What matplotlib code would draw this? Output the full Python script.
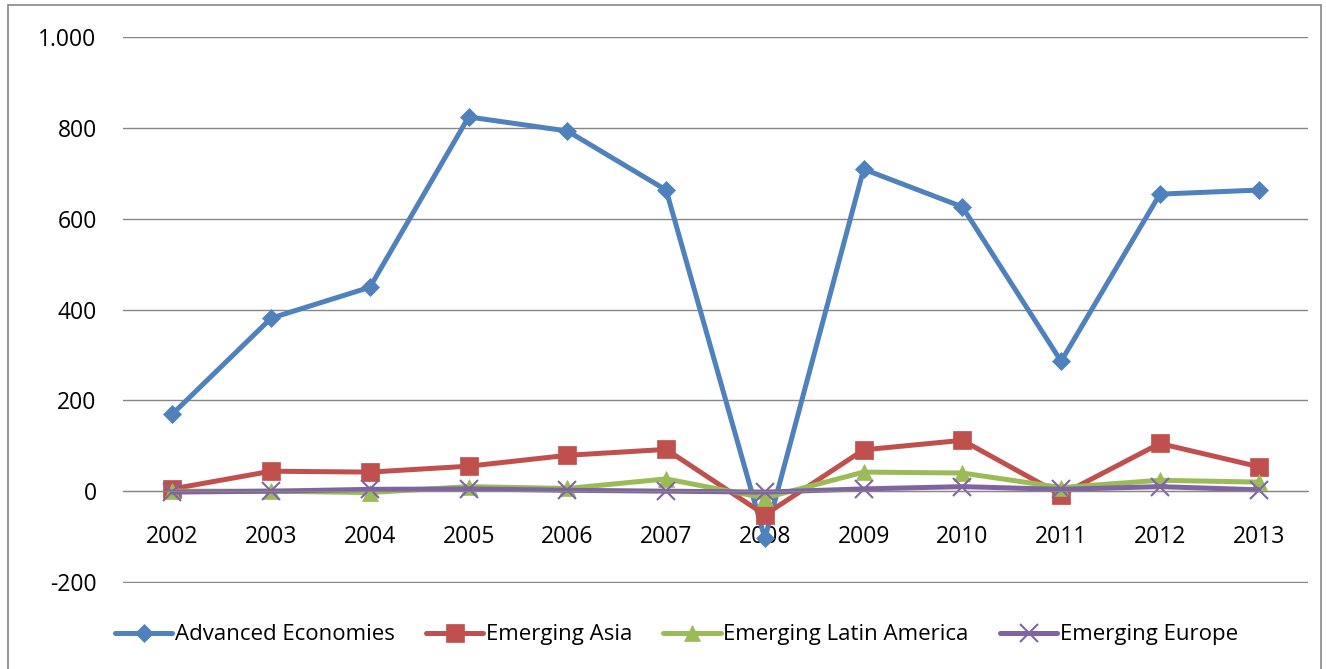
import matplotlib.pyplot as plt
import matplotlib.patches as patches
from matplotlib.ticker import FuncFormatter

years = ["2002", "2003", "2004", "2005", "2006", "2007",
         "2008", "2009", "2010", "2011", "2012", "2013"]
advanced = [170, 381, 449, 824, 793, 663, -104, 709, 626, 286, 654, 663]
asia = [5, 44, 42, 55, 79, 92, -52, 91, 112, -8, 105, 54]
latam = [0, 0, -3, 10, 6, 27, -15, 42, 40, 8, 24, 20]
europe = [-2, 0, 4, 5, 2, 0, -2, 5, 10, 4, 10, 3]

names = ["Advanced Economies", "Emerging Asia", "Emerging Latin America", "Emerging Europe"]
colors = ["#4F81BD", "#C0504D", "#9BBB59", "#8064A2"]
markers = ["D", "s", "^", "x"]
msizes = [9, 13, 12, 13]

plt.rcParams['font.family'] = ['Open Sans', 'DejaVu Sans']

fig = plt.figure(figsize=(13.26, 6.69), dpi=100)
ax = fig.add_axes([0.0928, 0.129, 0.8936, 0.8157])

x = list(range(len(years)))
series = [advanced, asia, latam, europe]
for vals, name, c, m, ms in zip(series, names, colors, markers, msizes):
    ax.plot(x, vals, color=c, lw=3.6, marker=m, markersize=ms,
            markeredgewidth=1.5 if m == "x" else 0.5, markeredgecolor=c,
            label=name, solid_capstyle='round')

ax.set_xlim(-0.5, 11.5)
ax.set_ylim(-201.5, 1000)
ax.set_yticks(range(-200, 1001, 200))
ax.yaxis.set_major_formatter(FuncFormatter(lambda v, p: "{:,.0f}".format(v).replace(",", ".")))
ax.grid(axis='y', color='#868686', lw=1)
ax.set_axisbelow(True)
ax.set_xticks(x)
ax.set_xticklabels(years)

for s in ['top', 'right', 'left']:
    ax.spines[s].set_visible(False)
ax.spines['bottom'].set_position(('data', 0))
ax.spines['bottom'].set_color('#868686')
ax.tick_params(axis='both', length=0, labelsize=16.5)
ax.tick_params(axis='x', pad=24)
ax.tick_params(axis='y', pad=19)

fig.legend(loc='center', bbox_to_anchor=(0.51, 0.051), ncol=4, frameon=False,
           fontsize=16, handlelength=2.6, handletextpad=0.1, columnspacing=1.4)

fig.patches.append(patches.Rectangle((0.006, -0.01), 0.99, 1.002, transform=fig.transFigure,
                                     fill=False, edgecolor='#868686', lw=1.2))

fig.savefig("out.png", dpi=100)
